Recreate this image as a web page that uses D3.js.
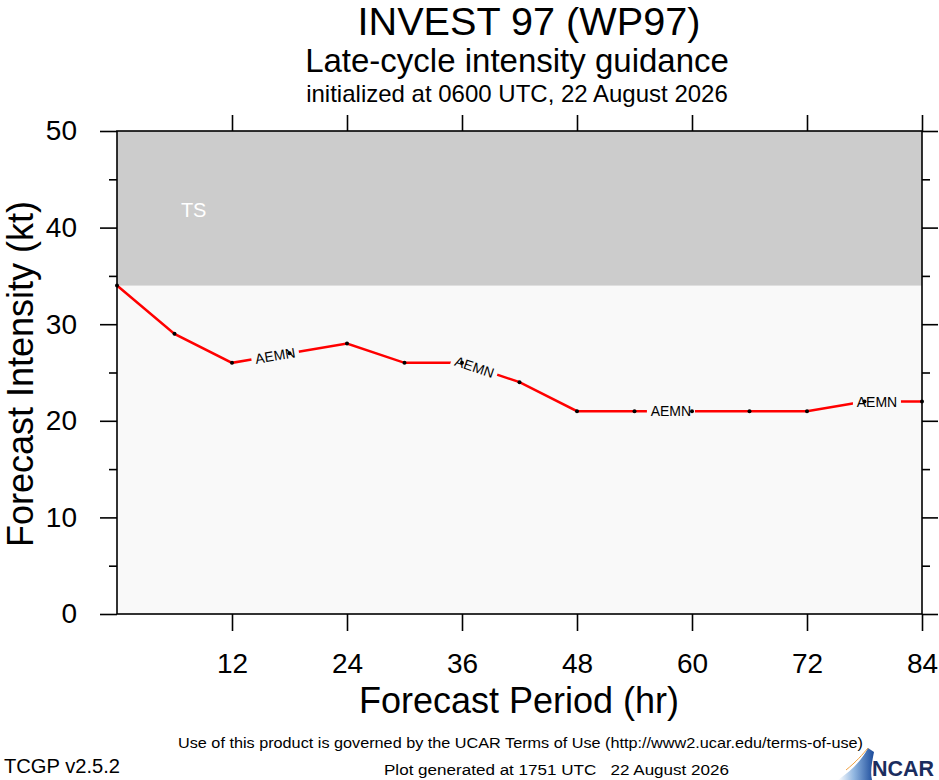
<!DOCTYPE html>
<html>
<head>
<meta charset="utf-8">
<script src="https://cdn.jsdelivr.net/npm/d3@7"></script>
<style>
  body { margin: 0; background: #ffffff; }
  svg { display: block; font-family: "Liberation Sans", Arial, Helvetica, sans-serif; }
</style>
</head>
<body>
<div id="chart"></div>
<script>
var width = 939;
var height = 780;

// forecast data
var hours = [0, 6, 12, 18, 24, 30, 36, 42, 48, 54, 60, 66, 72, 78, 84];
var intensity = [34, 29, 26, 27, 28, 26, 26, 24, 21, 21, 21, 21, 21, 22, 22];
var modelName = 'AEMN';
var labelHours = [16.5, 37.3, 57.8, 79.3];

// axis ticks
var xTicks = [12, 24, 36, 48, 60, 72, 84];
var yTicks = [0, 10, 20, 30, 40, 50];
var yMinor = [5, 15, 25, 35, 45];

// intensity categories
var bandNames = ['TS'];
var bandLow = [34];
var bandHigh = [64];

var plot = {left: 117, right: 922, top: 131, bottom: 614};

var svg = d3.select('#chart')
            .append('svg')
            .attr('width', width)
            .attr('height', height);

var x = d3.scaleLinear().domain([0, 84]).range([plot.left, plot.right]);
var y = d3.scaleLinear().domain([0, 50]).range([plot.bottom, plot.top]);

// titles
svg.append('text').attr('x', 529).attr('y', 35).attr('text-anchor', 'middle')
   .attr('font-size', 38).attr('textLength', 343).attr('lengthAdjust', 'spacingAndGlyphs')
   .text('INVEST 97 (WP97)');
svg.append('text').attr('x', 517).attr('y', 72).attr('text-anchor', 'middle')
   .attr('font-size', 33).text('Late-cycle intensity guidance');
svg.append('text').attr('x', 517).attr('y', 102).attr('text-anchor', 'middle')
   .attr('font-size', 24).text('initialized at 0600 UTC, 22 August 2026');

// background
svg.append('rect')
   .attr('x', plot.left).attr('y', plot.top)
   .attr('width', plot.right - plot.left).attr('height', plot.bottom - plot.top)
   .attr('fill', '#f9f9f9');

// category bands
bandNames.forEach(function(name, i) {
  var top = y(Math.min(bandHigh[i], 50));
  var bot = y(bandLow[i]);
  svg.append('rect')
     .attr('x', plot.left).attr('y', top)
     .attr('width', plot.right - plot.left).attr('height', bot - top)
     .attr('fill', '#cccccc');
  svg.append('text')
     .attr('x', x(8)).attr('y', 217)
     .attr('text-anchor', 'middle')
     .attr('font-size', 20).attr('fill', '#ffffff')
     .text(name);
});

// forecast line
var line = d3.line().x(function(d, i) { return x(hours[i]); })
                    .y(function(d) { return y(d); });
svg.append('path')
   .datum(intensity)
   .attr('d', line)
   .attr('fill', 'none')
   .attr('stroke', '#ff0000')
   .attr('stroke-width', 2.5);

// labels along the line
labelHours.forEach(function(h) {
  var j = d3.bisectRight(hours, h) - 1;
  j = Math.min(j, hours.length - 2);
  var t = (h - hours[j]) / (hours[j + 1] - hours[j]);
  var v = intensity[j] + t * (intensity[j + 1] - intensity[j]);
  var px = x(h), py = y(v);
  var ang = Math.atan2(y(intensity[j + 1]) - y(intensity[j]), x(hours[j + 1]) - x(hours[j])) * 180 / Math.PI;
  var g = svg.append('g').attr('transform', 'translate(' + px + ',' + py + ') rotate(' + ang + ')');
  g.append('rect').attr('x', -24).attr('y', -6).attr('width', 48).attr('height', 12).attr('fill', '#f9f9f9');
  g.append('text').attr('text-anchor', 'middle').attr('dy', '0.36em')
   .attr('font-size', 14).text(modelName);
});

// points
svg.selectAll('circle.pt')
   .data(intensity)
   .enter()
   .append('circle')
   .attr('class', 'pt')
   .attr('cx', function(d, i) { return x(hours[i]); })
   .attr('cy', function(d) { return y(d); })
   .attr('r', 2)
   .attr('fill', '#000000');

// frame
svg.append('rect')
   .attr('x', plot.left).attr('y', plot.top)
   .attr('width', plot.right - plot.left).attr('height', plot.bottom - plot.top)
   .attr('fill', 'none').attr('stroke', '#000').attr('stroke-width', 1.6);

function styleAxis(g) {
  g.select('.domain').remove();
  g.selectAll('line').attr('stroke', '#000').attr('stroke-width', 1.6);
  g.selectAll('text').attr('font-family', '"Liberation Sans", Arial, Helvetica, sans-serif')
   .attr('font-size', 28).attr('fill', '#000');
}

// left
svg.append('g').attr('transform', 'translate(' + plot.left + ',0)')
   .call(d3.axisLeft(y).tickValues(yTicks).tickSize(17).tickPadding(23)).call(styleAxis);
svg.append('g').attr('transform', 'translate(' + plot.left + ',0)')
   .call(d3.axisLeft(y).tickValues(yMinor).tickSize(8).tickFormat('')).call(styleAxis);
// right
svg.append('g').attr('transform', 'translate(' + plot.right + ',0)')
   .call(d3.axisRight(y).tickValues(yTicks).tickSize(16).tickFormat('')).call(styleAxis);
svg.append('g').attr('transform', 'translate(' + plot.right + ',0)')
   .call(d3.axisRight(y).tickValues(yMinor).tickSize(8).tickFormat('')).call(styleAxis);
// bottom
svg.append('g').attr('transform', 'translate(0,' + plot.bottom + ')')
   .call(d3.axisBottom(x).tickValues(xTicks).tickSize(17).tickPadding(22)).call(styleAxis);
// top
svg.append('g').attr('transform', 'translate(0,' + plot.top + ')')
   .call(d3.axisTop(x).tickValues(xTicks).tickSize(16).tickFormat('')).call(styleAxis);

// axis titles
svg.append('text')
   .attr('transform', 'translate(33,374) rotate(-90)')
   .attr('text-anchor', 'middle')
   .attr('font-size', 36)
   .text('Forecast Intensity (kt)');
svg.append('text')
   .attr('x', 519).attr('y', 713)
   .attr('text-anchor', 'middle')
   .attr('font-size', 36)
   .text('Forecast Period (hr)');

// footer
svg.append('text').attr('x', 178).attr('y', 748)
   .attr('font-size', 15).attr('textLength', 685).attr('lengthAdjust', 'spacingAndGlyphs')
   .text('Use of this product is governed by the UCAR Terms of Use (http://www2.ucar.edu/terms-of-use)');
svg.append('text').attr('x', 4).attr('y', 773)
   .attr('font-size', 20).attr('textLength', 116).attr('lengthAdjust', 'spacingAndGlyphs')
   .text('TCGP v2.5.2');
svg.append('text').attr('x', 384).attr('y', 775)
   .attr('font-size', 14).attr('textLength', 345).attr('lengthAdjust', 'spacingAndGlyphs')
   .attr('xml:space', 'preserve')
   .text('Plot generated at 1751 UTC   22 August 2026');

// NCAR logo
var defs = svg.append('defs');
var grad = defs.append('linearGradient').attr('id', 'ncarGrad')
               .attr('x1', '0%').attr('y1', '0%').attr('x2', '100%').attr('y2', '0%');
grad.append('stop').attr('offset', '0%').attr('stop-color', '#ffffff');
grad.append('stop').attr('offset', '45%').attr('stop-color', '#8fb5e0');
grad.append('stop').attr('offset', '100%').attr('stop-color', '#1a4a9a');
svg.append('path')
   .attr('d', 'M838,780 C852,770 862,760 868,748 L874,752 C872,762 870,772 872,780 Z')
   .attr('fill', 'url(#ncarGrad)');
svg.append('path')
   .attr('d', 'M846,770 C856,762 863,754 868,748')
   .attr('fill', 'none').attr('stroke', '#f0a040').attr('stroke-width', 1);
svg.append('text').attr('x', 872).attr('y', 776)
   .attr('font-size', 22).attr('font-weight', 'bold').attr('fill', '#1b2d5e')
   .attr('textLength', 62).attr('lengthAdjust', 'spacingAndGlyphs')
   .text('NCAR');
</script>
</body>
</html>
